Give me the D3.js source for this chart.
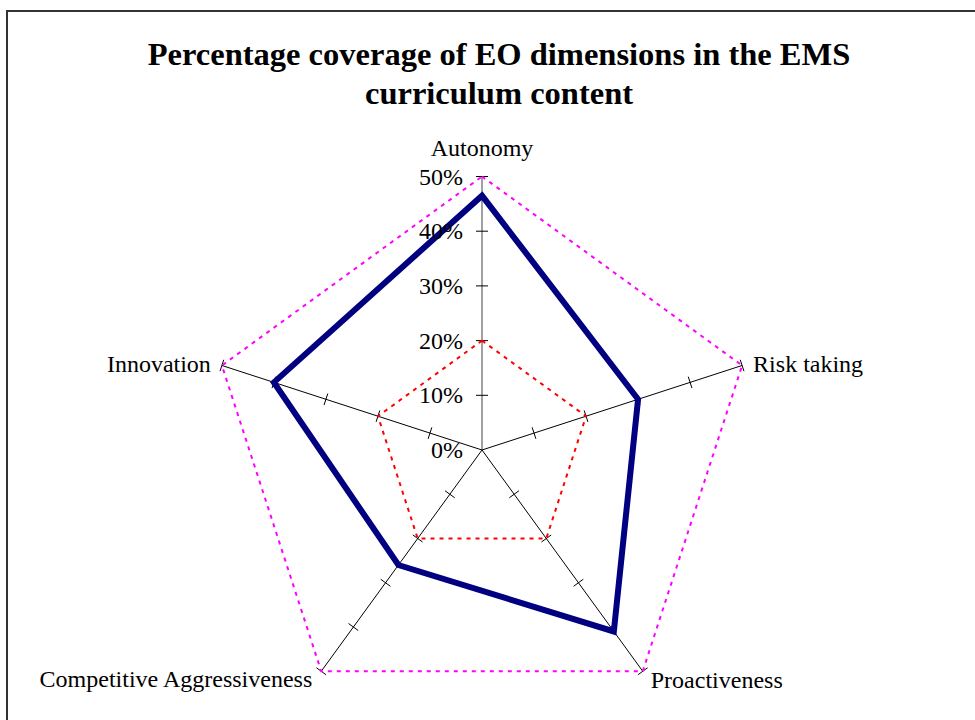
<!DOCTYPE html>
<html>
<head>
<meta charset="utf-8">
<script src="https://cdn.jsdelivr.net/npm/d3@7"></script>
<style>
  body { margin: 0; background: #fff; }
  text { font-family: "Liberation Serif", "Times New Roman", serif; fill: #000; }
</style>
</head>
<body>
<div id="chart"></div>
<script>
// Chart data
const dimensions = ["Autonomy", "Risk taking", "Proactiveness", "Competitive Aggressiveness", "Innovation"];
const coverage = [0.465, 0.30, 0.41, 0.26, 0.40];
const innerRef = [0.20, 0.20, 0.20, 0.20, 0.20];
const outerRef = [0.50, 0.50, 0.50, 0.50, 0.50];
const tickValues = [0, 0.1, 0.2, 0.3, 0.4, 0.5];

const width = 975, height = 720;
const cx = 482, cy = 450;

const svg = d3.select("#chart")
  .append("svg")
  .attr("width", width)
  .attr("height", height);

// outer frame
svg.append("rect")
  .attr("x", 7).attr("y", 11)
  .attr("width", 1000).attr("height", 760)
  .attr("fill", "none")
  .attr("stroke", "#333")
  .attr("stroke-width", 2);

// Title
const title = svg.append("text")
  .attr("text-anchor", "middle")
  .style("font-size", "32.5px")
  .style("font-weight", "bold");
title.append("tspan").attr("x", 499).attr("y", 65).text("Percentage coverage of EO dimensions in the EMS");
title.append("tspan").attr("x", 499).attr("y", 104).text("curriculum content");

const r = d3.scaleLinear().domain([0, 0.5]).range([0, 273.5]);
const angle = d3.scaleLinear().domain([0, dimensions.length]).range([0, 2 * Math.PI]);

const pt = (i, v) => [cx + r(v) * Math.sin(angle(i)), cy - r(v) * Math.cos(angle(i))];

const g = svg.append("g");

// category axes
dimensions.forEach((d, i) => {
  const [x2, y2] = pt(i, 0.5);
  g.append("line")
    .attr("x1", cx).attr("y1", cy).attr("x2", x2).attr("y2", y2)
    .attr("stroke", i === 0 ? "#808080" : "#000")
    .attr("stroke-width", i === 0 ? 1.5 : 1);
  // tick marks
  const a = angle(i);
  const px = Math.cos(a), py = Math.sin(a);
  tickValues.slice(1).forEach(t => {
    const [tx, ty] = pt(i, t);
    g.append("line")
      .attr("x1", tx - 6 * px).attr("y1", ty - 6 * py)
      .attr("x2", tx + 6 * px).attr("y2", ty + 6 * py)
      .attr("stroke", "#000")
      .attr("stroke-width", 1);
  });
});

const line = d3.line().curve(d3.curveLinearClosed);

// reference polygons
g.append("path")
  .attr("d", line(outerRef.map((v, i) => pt(i, v))))
  .attr("fill", "none")
  .attr("stroke", "#ff00ff")
  .attr("stroke-width", 2)
  .attr("stroke-dasharray", "4,5");

g.append("path")
  .attr("d", line(innerRef.map((v, i) => pt(i, v))))
  .attr("fill", "none")
  .attr("stroke", "#ff0000")
  .attr("stroke-width", 2)
  .attr("stroke-dasharray", "4,5");

// main series
g.append("path")
  .attr("d", line(coverage.map((v, i) => pt(i, v))))
  .attr("fill", "none")
  .attr("stroke", "#000080")
  .attr("stroke-width", 6)
  .attr("stroke-linejoin", "miter");

// value labels on the vertical axis
g.selectAll(".tick-label")
  .data(tickValues)
  .join("text")
  .attr("class", "tick-label")
  .attr("x", cx - 19)
  .attr("y", d => cy - r(d) + 8)
  .attr("text-anchor", "end")
  .style("font-size", "24px")
  .text(d3.format(".0%"));

// category labels
const labelPos = [
  { dx: 0, dy: -21, anchor: "middle" },
  { dx: 11, dy: 7, anchor: "start" },
  { dx: 8, dy: 17, anchor: "start" },
  { dx: -9, dy: 16, anchor: "end" },
  { dx: -11, dy: 7, anchor: "end" }
];
dimensions.forEach((d, i) => {
  const [x, y] = pt(i, 0.5);
  g.append("text")
    .attr("x", x + labelPos[i].dx)
    .attr("y", y + labelPos[i].dy)
    .attr("text-anchor", labelPos[i].anchor)
    .style("font-size", "24px")
    .text(d);
});
</script>
</body>
</html>
